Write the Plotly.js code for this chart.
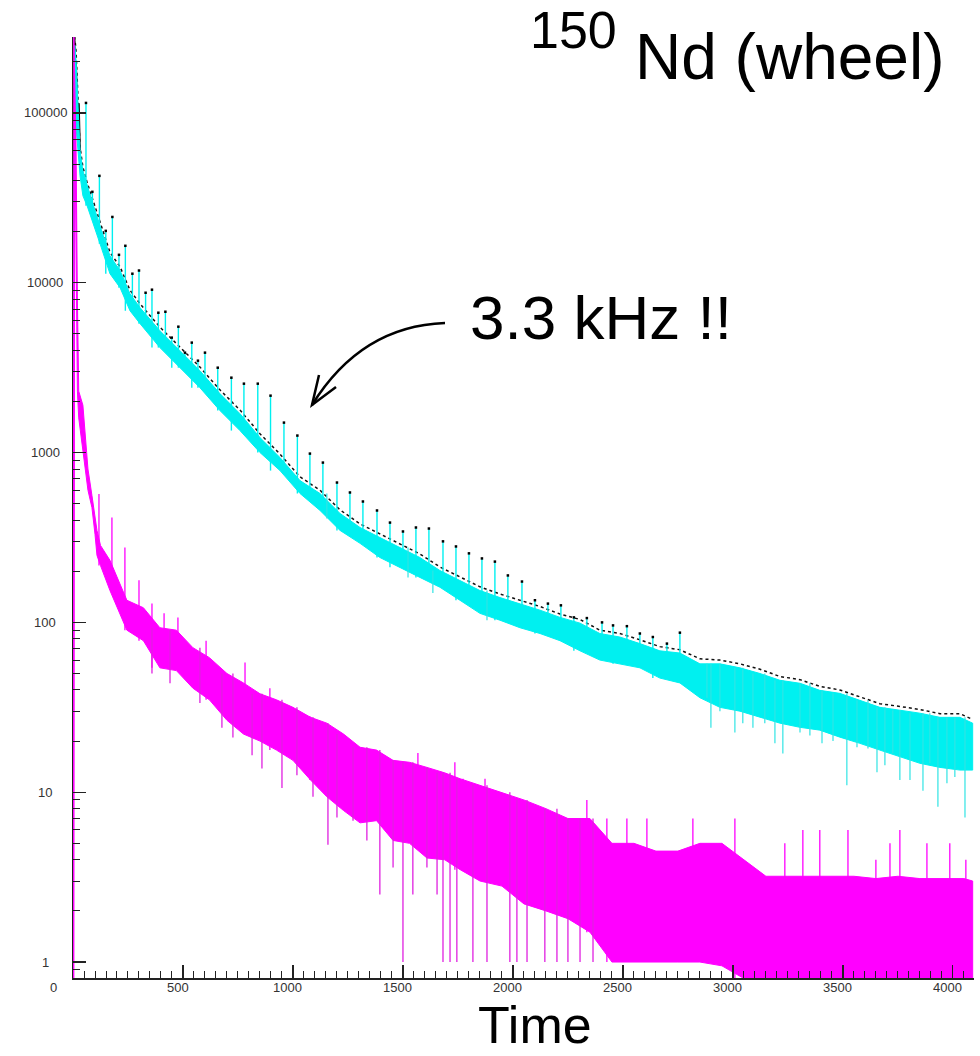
<!DOCTYPE html>
<html>
<head>
<meta charset="utf-8">
<script src="https://cdn.plot.ly/plotly-3.0.1.min.js"></script>
<style>html,body{margin:0;padding:0;background:#fff;}#chart{width:980px;height:1056px;}</style>
</head>
<body>
<div id="chart"></div>
<script>
// ---------------- data (x = time channel, y = counts) ----------------
const cyanX  = [0, 8, 14, 23, 32, 45, 64, 86, 123, 168, 214, 259, 305, 395, 486, 577, 668, 759, 850, 941, 1032, 1123, 1214, 1305, 1395, 1486, 1577, 1668, 1759, 1850, 1941, 2032, 2123, 2214, 2305, 2395, 2486, 2577, 2668, 2759, 2850, 2941, 3032, 3123, 3214, 3305, 3395, 3486, 3577, 3668, 3759, 3850, 3941, 4032, 4090];
const cyanHi = [1500, 250000, 202000, 102800, 59700, 45600, 37200, 30400, 21600, 14400, 11800, 8620, 7130, 5220, 3980, 3035, 2225, 1695, 1225, 935, 684, 574, 438, 362, 316, 276, 241, 202, 177, 154, 140, 129, 118, 107, 99, 86, 82, 75, 68, 66, 57, 57, 54, 50, 45.6, 43.8, 39.8, 38.2, 34.8, 31.6, 30.4, 29.2, 27.6, 27.6, 25.5];
const cyanLo = [700, 100000, 78400, 59700, 42600, 32500, 28400, 23800, 16950, 11300, 9350, 6840, 5740, 4150, 3160, 2410, 1767, 1347, 1000, 783, 574, 456, 348, 292, 241, 211, 184, 161, 135, 113, 103, 93, 86, 78, 68, 60, 57, 54, 47, 44, 36, 31.6, 30, 27.6, 25.5, 24.1, 23.2, 21.1, 19.4, 17.7, 16.1, 14.8, 14.0, 13.5, 13.5];
const blackHi = [2300, 280000, 230000, 110000, 63000, 48000, 39000, 32000, 22700, 15100, 12400, 9050, 7500, 5480, 4180, 3190, 2340, 1780, 1290, 980, 720, 600, 460, 380, 332, 290, 253, 212, 186, 162, 147, 135, 124, 112, 104, 90, 86, 79, 72, 69, 61, 60, 57, 53, 48, 46, 42, 40, 36.5, 33.2, 32, 30.7, 29, 29, 26.8];

const blackPeakX = [0, 6, 10, 14, 20, 27, 32];
const blackPeakY = [2300, 280000, 150000, 200000, 100000, 114000, 60000];

// the periodic 3.3 kHz spikes on the cyan histogram
const cyanSpikeX = [59, 88, 120, 149, 179, 209, 238, 270, 300, 330, 359, 388, 420, 449, 479, 509, 540, 568, 600, 658, 720, 777, 840, 898, 959, 1020, 1077, 1136, 1200, 1259, 1318, 1382, 1441, 1500, 1559, 1618, 1682, 1741, 1800, 1859, 1918, 1977, 2041, 2100, 2159, 2218, 2277, 2336, 2405, 2455, 2518, 2577, 2636, 2700, 2759];
const cyanSpikeTop = [114500, 34300, 42600, 20200, 24400, 14600, 16500, 11300, 11800, 8730, 9100, 6660, 6750, 4750, 5510, 3875, 4440, 3475, 3875, 3160, 2760, 2545, 2545, 2163, 1501, 1259, 986, 873, 666, 582, 515, 456, 387, 343, 362, 357, 300, 280, 255, 238, 228, 189, 174, 135, 129, 126, 107, 106, 100, 96, 95, 86, 82, 75, 87];
const cyanDipX = [1154, 1523, 1636, 1882, 2882, 2900, 2941, 3009, 3045, 3091, 3145, 3191, 3227, 3305, 3350, 3405, 3455, 3518, 3564, 3614, 3655, 3691, 3727, 3759, 3805, 3864, 3895, 3932, 3973, 4009, 4055];
const cyanDipV = [409, 184, 149, 103, 36, 24, 30, 22.5, 25.5, 24, 25.5, 19.4, 16.9, 22.5, 21.6, 19.4, 20, 11, 18.4, 18.1, 13.1, 14.4, 16.9, 11.8, 11.8, 10.2, 14.8, 8.2, 11.3, 12.3, 7.1];

const magX  = [0, 2, 4, 8, 14, 20, 26, 45, 68, 86, 100, 109, 125, 168, 245, 320, 395, 470, 545, 620, 700, 775, 850, 925, 1000, 1080, 1154, 1230, 1305, 1380, 1455, 1530, 1609, 1690, 1760, 1850, 1950, 2050, 2150, 2250, 2350, 2450, 2550, 2650, 2750, 2850, 2950, 3050, 3150, 3250, 3350, 3450, 3550, 3650, 3750, 3850, 3950, 4050, 4090];
const magHi = [0.8, 280000, 280000, 150000, 60000, 8000, 2300, 1900, 800, 560, 420, 348, 284, 232, 135, 122, 93, 90, 71, 62, 50, 44, 38, 35, 31.6, 27.6, 25.5, 22, 18.4, 17.7, 15.4, 15, 14, 13, 12, 11, 10, 9, 8, 7, 7, 5, 5, 4.5, 4.5, 5, 5, 4, 3.2, 3.2, 3.2, 3.2, 3.2, 3.1, 3.2, 3.1, 3.1, 3.1, 3];
const magLo = [0.8, 0.8, 0.8, 100000, 20000, 2300, 1600, 1000, 600, 475, 330, 248, 216, 154, 90, 78, 54, 52, 41, 35, 26.5, 22, 20, 17.7, 15.4, 11.8, 9.4, 7.8, 6.6, 6.8, 5.2, 5, 4.1, 4, 3.5, 3, 2.8, 2.2, 2, 1.8, 1.5, 1, 1, 1, 1, 1, 0.95, 0.8, 0.8, 0.8, 0.8, 0.8, 0.8, 0.8, 0.8, 0.8, 0.8, 0.8, 0.8];
const magSpikeX = [118, 177, 236, 300, 359, 414, 477, 605, 782, 895, 1077, 1568, 1736, 1773, 1873, 2336, 2427, 2518, 2609, 2818, 3009, 3236, 3318, 3395, 3523, 3650, 3714, 3759, 3882, 3986, 4059];
const magSpikeTop = [570, 415, 276, 177, 129, 113, 107, 78, 58, 41, 28, 17, 15, 12, 12, 9, 7, 7, 7, 7, 7, 5, 6, 6, 6, 4, 5, 6, 5, 5, 4];
const magDipX = [359, 441, 577, 677, 727, 814, 859, 950, 1018, 1091, 1159, 1200, 1273, 1336, 1395, 1455, 1500, 1545, 1609, 1655, 1682, 1714, 1745, 1818, 1882, 1986, 2018, 2064, 2145, 2200, 2250, 2305, 2364];
const magDipV = [50, 43.8, 33.5, 24, 21, 16.5, 13.8, 10.6, 12.6, 9.4, 4.9, 7.1, 6.8, 5.2, 2.5, 3.6, 1, 2.5, 3.6, 2.5, 1, 1, 1, 1, 1, 1, 1, 1, 1, 1, 1, 1, 1];

const xTickVals = [0, 500, 1000, 1500, 2000, 2500, 3000, 3500, 4000];
const xTickText = ['0', '500', '1000', '1500', '2000', '2500', '3000', '3500', '4000'];
const yTickVals = [1, 10, 100, 1000, 10000, 100000];
const yTickText = ['1', '10', '100', '1000', '10000', '100000'];

// ---------------- helpers ----------------
const CYAN = '#00f0f0', MAG = '#ff00ff', INK = '#222';

function band(xs, hi, lo, color) {
  const x = xs.concat(xs.slice().reverse());
  const y = hi.concat(lo.slice().reverse());
  return {type: 'scatter', mode: 'lines', x: x, y: y, fill: 'toself', fillcolor: color,
          line: {color: color, width: 1}, hoverinfo: 'skip'};
}
function nearest(xs, vals, x) {
  let bi = 0;
  for (let i = 1; i < xs.length; i++) if (Math.abs(xs[i] - x) < Math.abs(xs[bi] - x)) bi = i;
  return vals[bi];
}
function segments(xs, ends, refX, refV, color, width) {
  const x = [], y = [];
  xs.forEach((v, i) => { x.push(v, v, null); y.push(nearest(refX, refV, v), ends[i], null); });
  return {type: 'scatter', mode: 'lines', x: x, y: y, line: {color: color, width: width}, hoverinfo: 'skip'};
}

const traces = [
  {type: 'scatter', mode: 'lines', x: blackPeakX, y: blackPeakY, line: {color: '#000', width: 1.6}, hoverinfo: 'skip'},
  {type: 'scatter', mode: 'lines', x: cyanX, y: blackHi, line: {color: '#111', width: 1.5, dash: 'dot'}, hoverinfo: 'skip'},
  band(cyanX, cyanHi, cyanLo, CYAN),
  segments(cyanSpikeX, cyanSpikeTop, cyanX, cyanLo, CYAN, 1.4),
  segments(cyanDipX, cyanDipV, cyanX, cyanHi, '#30e4e4', 1.2),
  {type: 'scatter', mode: 'markers', x: cyanSpikeX, y: cyanSpikeTop,
   marker: {symbol: 'square', size: 2.5, color: '#000'}, hoverinfo: 'skip'},
  band(magX, magHi, magLo, MAG),
  segments(magSpikeX, magSpikeTop, magX, magLo, MAG, 1.3),
  segments(magDipX, magDipV, magX, magHi, '#e020e0', 1.3)
];

// minor log ticks 2..9 per decade
const minorY = [];
for (let d = -1; d <= 5; d++) for (let m = 2; m <= 9; m++) minorY.push(m * Math.pow(10, d));

const L = 73, R = 974, T = 37, B = 978;
const px = v => (v - L) / (R - L);
const py = v => (B - v) / (B - T);

const annotations = [];
yTickVals.forEach((v, i) => annotations.push({
  xref: 'paper', yref: 'y', x: px(45), y: Math.log10(v), text: yTickText[i], showarrow: false,
  xanchor: 'center', yanchor: 'middle', font: {family: 'Liberation Sans, Arial, sans-serif', size: 13, color: '#333'}
}));
xTickVals.forEach((v, i) => annotations.push({
  xref: 'x', yref: 'paper', x: v, y: py(988), xshift: i === 0 ? -20 : -5, text: xTickText[i], showarrow: false,
  xanchor: 'center', yanchor: 'middle', font: {family: 'Liberation Sans, Arial, sans-serif', size: 13, color: '#333'}
}));
const big = {family: 'Liberation Sans, Arial, sans-serif', color: '#000'};
annotations.push(
  {xref: 'paper', yref: 'paper', x: px(789), y: py(57), text: 'Nd (wheel)', showarrow: false,
   xanchor: 'center', yanchor: 'middle', font: Object.assign({size: 64}, big)},
  {xref: 'paper', yref: 'paper', x: px(573), y: py(30), text: '150', showarrow: false,
   xanchor: 'center', yanchor: 'middle', font: Object.assign({size: 52}, big)},
  {xref: 'paper', yref: 'paper', x: px(601), y: py(318), text: '3.3 kHz !!', showarrow: false,
   xanchor: 'center', yanchor: 'middle', font: Object.assign({size: 62}, big)},
  {xref: 'paper', yref: 'paper', x: px(535), y: py(1056), text: 'Time', showarrow: false,
   xanchor: 'center', yanchor: 'bottom', font: Object.assign({size: 52}, big)}
);

const shapes = [
  {type: 'path', xref: 'paper', yref: 'paper',
   path: `M ${px(445)},${py(323)} Q ${px(361)},${py(326)} ${px(312)},${py(405)}`,
   line: {color: '#000', width: 2.5}},
  {type: 'path', xref: 'paper', yref: 'paper',
   path: `M ${px(319)},${py(375)} L ${px(312)},${py(405)} L ${px(336)},${py(387)}`,
   line: {color: '#000', width: 2.5}}
];

const layout = {
  width: 980, height: 1056,
  margin: {l: L, r: 980 - R, t: T, b: 1056 - B},
  paper_bgcolor: '#fff', plot_bgcolor: '#fff', showlegend: false,
  xaxis: {range: [0, 4096], showgrid: false, zeroline: false, showline: true, linecolor: INK, linewidth: 1.5,
          ticks: 'inside', tickmode: 'array', tickvals: xTickVals, ticklen: 13, tickwidth: 1.2, tickcolor: INK,
          showticklabels: false,
          minor: {tickmode: 'linear', tick0: 0, dtick: 50, ticks: 'inside', ticklen: 7, tickwidth: 1, tickcolor: INK, showgrid: false}},
  yaxis: {type: 'log', range: [-0.094, 5.447], showgrid: false, zeroline: false, showline: true, linecolor: INK, linewidth: 1.5,
          ticks: 'inside', tickmode: 'array', tickvals: yTickVals, ticklen: 13, tickwidth: 1.2, tickcolor: INK,
          showticklabels: false,
          minor: {tickmode: 'array', tickvals: minorY, ticks: 'inside', ticklen: 7, tickwidth: 1, tickcolor: INK, showgrid: false}},
  annotations: annotations,
  shapes: shapes
};

Plotly.newPlot('chart', traces, layout, {staticPlot: true, displayModeBar: false});
</script>
</body>
</html>
